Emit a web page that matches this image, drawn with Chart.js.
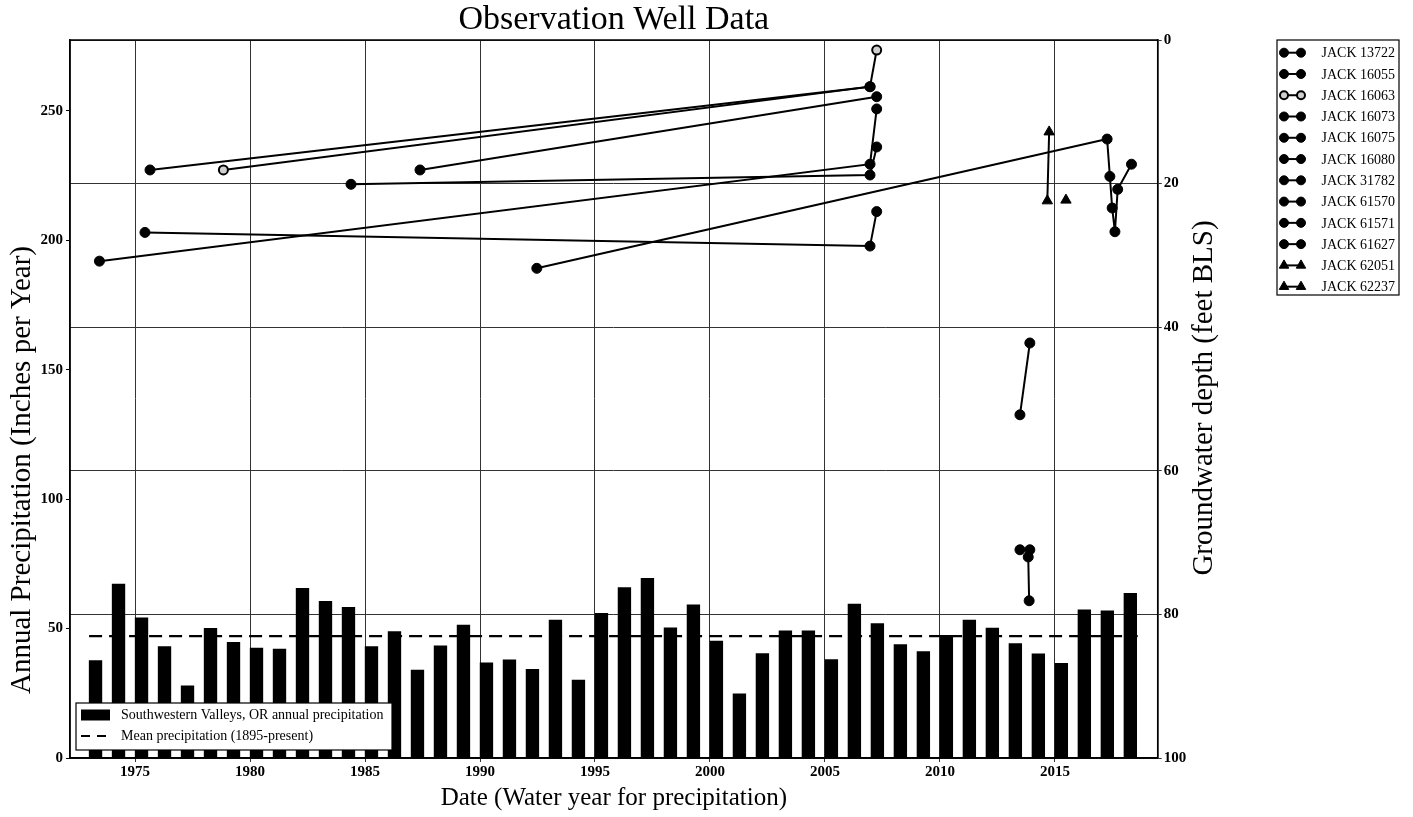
<!DOCTYPE html>
<html>
<head>
<meta charset="utf-8">
<title>Observation Well Data</title>
<script src="https://cdn.jsdelivr.net/npm/chart.js@4.4.1/dist/chart.umd.min.js"></script>
<style>
  html, body { margin: 0; padding: 0; background: #fff; }
  canvas { display: block; }
</style>
</head>
<body>
<canvas id="wells" width="1413" height="817"></canvas>
<script>
(function () {
  'use strict';

  // annual precipitation, Southwestern Valleys OR (water years)
  var precipYears = [1973, 1974, 1975, 1976, 1977, 1978, 1979, 1980, 1981, 1982,
    1983, 1984, 1985, 1986, 1987, 1988, 1989, 1990, 1991, 1992, 1993, 1994, 1995,
    1996, 1997, 1998, 1999, 2000, 2001, 2002, 2003, 2004, 2005, 2006, 2007, 2008,
    2009, 2010, 2011, 2012, 2013, 2014, 2015, 2016, 2017, 2018];
  var precipInches = [37.6, 67.2, 54.2, 43.0, 27.9, 50.1, 44.7, 42.5, 42.1, 65.6,
    60.5, 58.2, 43.0, 48.8, 34.0, 43.3, 51.4, 36.8, 37.9, 34.3, 53.3, 30.1, 55.9,
    65.8, 69.4, 50.3, 59.2, 45.2, 24.8, 40.3, 49.1, 49.1, 38.0, 59.5, 51.9, 43.8,
    41.1, 47.4, 53.3, 50.2, 44.2, 40.2, 36.6, 57.2, 56.9, 63.6];
  var meanPrecip = 47.1;
  var meanSpan = [1973, 2018.6];

  // well measurements: [date (decimal year), depth below land surface (ft)]
  var jack13722 = [[1973.45, 30.8], [2006.96, 17.3], [2007.25, 9.6]];
  var jack16055 = [[1975.65, 18.1], [2006.96, 6.5]];
  var jack16063 = [[1978.84, 18.1], [2006.96, 6.5], [2007.25, 1.4]];
  var jack16073 = [[1987.39, 18.1], [2007.25, 7.9]];
  var jack16075 = [[1984.39, 20.1], [2006.96, 18.8], [2007.25, 14.9]];
  var jack16080 = [[1975.43, 26.8], [2006.96, 28.7], [2007.25, 23.9]];
  var jack31782 = [[1992.47, 31.8], [2017.27, 13.8], [2017.39, 19.0], [2017.49, 23.4],
    [2017.61, 26.7], [2017.73, 20.8], [2018.33, 17.3]];
  var jack61570 = [[2013.48, 52.2], [2013.91, 42.2]];
  var jack61571 = [[2013.48, 71.0], [2013.91, 71.0]];
  var jack61627 = [[2013.84, 72.0], [2013.88, 78.1]];
  var jack62051 = [[2014.75, 12.8], [2014.67, 22.4]];
  var jack62237 = [[2015.48, 22.3]];

  var wellNames = ['JACK 13722', 'JACK 16055', 'JACK 16063', 'JACK 16073', 'JACK 16075',
    'JACK 16080', 'JACK 31782', 'JACK 61570', 'JACK 61571', 'JACK 61627',
    'JACK 62051', 'JACK 62237'];
  var wellSeries = [jack13722, jack16055, jack16063, jack16073, jack16075, jack16080,
    jack31782, jack61570, jack61571, jack61627, jack62051, jack62237];

  var xTickYears = [1975, 1980, 1985, 1990, 1995, 2000, 2005, 2010, 2015];
  var precipTicks = [0, 50, 100, 150, 200, 250];
  var depthTicks = [0, 20, 40, 60, 80, 100];

  var serif = "'Liberation Serif', 'Times New Roman', serif";
  var barShift = 0.28;   // bars sit just right of the year mark

  function tickList(values) {
    return function (scale) {
      scale.ticks = values.map(function (v) { return {value: v}; });
    };
  }

  var datasets = [];

  wellSeries.forEach(function (pts, i) {
    var name = wellNames[i];
    var hollow = name === 'JACK 16063';
    var tri = name === 'JACK 62051' || name === 'JACK 62237';
    datasets.push({
      type: 'line',
      label: name,
      xAxisID: 'x',
      yAxisID: 'yD',
      data: pts.map(function (p) { return {x: p[0], y: p[1]}; }),
      borderColor: '#000',
      borderWidth: 2,
      tension: 0,
      pointStyle: tri ? 'triangle' : 'circle',
      pointRadius: tri ? 6 : (hollow ? 4.5 : 5),
      pointBackgroundColor: hollow ? '#cfcfcf' : '#000',
      pointBorderColor: '#000',
      pointBorderWidth: hollow ? 2 : 1,
      order: 1
    });
  });

  datasets.push({
    type: 'line',
    label: 'Mean precipitation (1895-present)',
    xAxisID: 'x',
    yAxisID: 'yP',
    data: meanSpan.map(function (yr) { return {x: yr, y: meanPrecip}; }),
    borderColor: '#000',
    borderWidth: 2.2,
    borderDash: [13, 7],
    pointRadius: 0,
    order: 2
  });

  datasets.push({
    type: 'bar',
    label: 'Southwestern Valleys, OR annual precipitation',
    xAxisID: 'x',
    yAxisID: 'yP',
    data: precipYears.map(function (yr, i) { return {x: yr + barShift, y: precipInches[i]}; }),
    backgroundColor: '#000',
    barThickness: 12.7,
    order: 3
  });

  var drawPoint = Chart.helpers.drawPoint;

  var frameAndLegends = {
    id: 'frameAndLegends',
    afterDraw: function (chart) {
      var ctx = chart.ctx, area = chart.chartArea;
      var sets = chart.data.datasets;
      ctx.save();

      ctx.strokeStyle = '#000';
      ctx.lineWidth = 1.5;
      ctx.strokeRect(area.left, area.top, area.right - area.left, area.bottom - area.top);

      ctx.fillStyle = '#000';
      ctx.textAlign = 'center';
      ctx.textBaseline = 'alphabetic';
      ctx.font = '34px ' + serif;
      ctx.fillText('Observation Well Data', (area.left + area.right) / 2, 29);

      ctx.font = '25px ' + serif;
      ctx.textBaseline = 'middle';
      ctx.fillText('Date (Water year for precipitation)', (area.left + area.right) / 2, 798);

      ctx.font = '29px ' + serif;
      ctx.save();
      ctx.translate(22, 470);
      ctx.rotate(-Math.PI / 2);
      ctx.fillText('Annual Precipitation (Inches per Year)', 0, 0);
      ctx.restore();

      ctx.save();
      ctx.translate(1204, 398);
      ctx.rotate(-Math.PI / 2);
      ctx.fillText('Groundwater depth (feet BLS)', 0, 0);
      ctx.restore();

      // precipitation legend, lower left
      var bars = sets[sets.length - 1], mean = sets[sets.length - 2];
      ctx.fillStyle = '#fff';
      ctx.fillRect(76, 703, 316, 47);
      ctx.lineWidth = 1.2;
      ctx.strokeRect(76, 703, 316, 47);
      ctx.fillStyle = bars.backgroundColor;
      ctx.fillRect(81, 709.5, 29, 11);
      ctx.strokeStyle = mean.borderColor;
      ctx.lineWidth = 2;
      ctx.setLineDash([9, 7]);
      ctx.beginPath();
      ctx.moveTo(81, 736);
      ctx.lineTo(112, 736);
      ctx.stroke();
      ctx.setLineDash([]);
      ctx.fillStyle = '#000';
      ctx.textAlign = 'left';
      ctx.font = '14px ' + serif;
      ctx.fillText(bars.label, 121, 715.5);
      ctx.fillText(mean.label, 121, 736.5);

      // wells legend, right
      ctx.fillStyle = '#fff';
      ctx.fillRect(1277, 40, 122, 255);
      ctx.strokeStyle = '#000';
      ctx.lineWidth = 1.2;
      ctx.strokeRect(1277, 40, 122, 255);
      for (var i = 0; i < wellNames.length; i++) {
        var ds = sets[i];
        var y = 52.7 + i * 21.27;
        ctx.strokeStyle = '#000';
        ctx.lineWidth = 2;
        ctx.beginPath();
        ctx.moveTo(1284, y);
        ctx.lineTo(1301, y);
        ctx.stroke();
        ctx.fillStyle = ds.pointBackgroundColor;
        ctx.strokeStyle = ds.pointBorderColor;
        ctx.lineWidth = ds.pointBorderWidth;
        var opts = {pointStyle: ds.pointStyle, radius: ds.pointRadius - 0.5, rotation: 0, borderWidth: ds.pointBorderWidth};
        drawPoint(ctx, opts, 1284, y);
        drawPoint(ctx, opts, 1301, y);
        ctx.fillStyle = '#000';
        ctx.fillText(ds.label, 1321.5, y + 1);
      }
      ctx.restore();
    }
  };

  var tickFont = {family: serif, size: 15, weight: 'bold'};

  new Chart(document.getElementById('wells').getContext('2d'), {
    type: 'bar',
    data: {datasets: datasets},
    options: {
      responsive: false,
      animation: false,
      layout: {padding: {top: 40, left: 0, right: 0, bottom: 0}},
      plugins: {
        legend: {display: false},
        title: {display: false},
        tooltip: {enabled: false}
      },
      scales: {
        x: {
          type: 'linear',
          position: 'bottom',
          min: 1972.17,
          max: 2019.47,
          offset: false,
          afterBuildTicks: tickList(xTickYears),
          afterFit: function (s) { s.height = 59; },
          grid: {offset: false, color: '#333', lineWidth: 1, tickLength: 4},
          border: {color: '#000', width: 1.5},
          ticks: {
            color: '#000', font: tickFont, padding: 1, maxRotation: 0, autoSkip: false,
            callback: function (v) { return String(v); }
          }
        },
        yP: {
          type: 'linear',
          position: 'left',
          min: 0,
          max: 277.4,
          afterBuildTicks: tickList(precipTicks),
          afterFit: function (s) { s.width = 70; },
          grid: {drawOnChartArea: false, color: '#000', tickLength: 4},
          border: {color: '#000', width: 1.5},
          ticks: {color: '#000', font: tickFont, padding: 3}
        },
        yD: {
          type: 'linear',
          position: 'right',
          reverse: true,
          min: 0,
          max: 100,
          afterBuildTicks: tickList(depthTicks),
          afterFit: function (s) { s.width = 255.3; },
          grid: {color: '#333', lineWidth: 1, tickLength: 4},
          border: {color: '#000', width: 1.5},
          ticks: {color: '#000', font: tickFont, padding: 2}
        }
      }
    },
    plugins: [frameAndLegends]
  });
})();
</script>
</body>
</html>
